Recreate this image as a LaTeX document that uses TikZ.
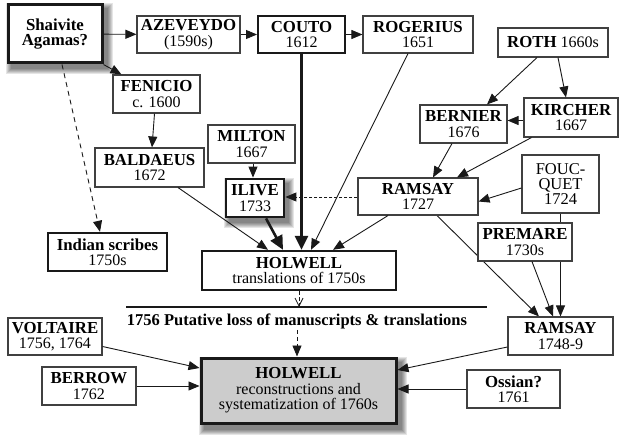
\documentclass[tikz,border=0pt]{standalone}
\usepackage{fontspec}
\setmainfont{Liberation Serif}
\usetikzlibrary{arrows.meta,backgrounds,calc}
\newcommand\nm[1]{{\fontsize{16.8}{15.5}\selectfont\bfseries #1}}
\newcommand\fakeshadow[1]{%
  \begin{pgfonlayer}{background}
  \foreach \s in {5,4,3,2,1,0}{%
    \fill[black,opacity=0.1] ([xshift={4pt-\s pt},yshift={-5pt+\s pt}]#1.north west) rectangle ([xshift={4pt+\s pt},yshift={-5pt-\s pt}]#1.south east);}
  \end{pgfonlayer}}
\begin{document}
\begin{tikzpicture}[x=1pt,y=-1pt,
 box/.style={draw=black!75,line width=1.1pt,fill=white,inner sep=1pt,align=center,font=\fontsize{16}{15.5}\selectfont},
 thickbox/.style={box,draw=black!90,line width=2.6pt},
 arr/.style={line width=0.9pt,draw=black!90,-{Triangle[length=11pt,width=9pt]}},
 thickarr/.style={line width=2.6pt,draw=black!90,-{Triangle[length=14pt,width=13pt]}},
]
\useasboundingbox (0,0) rectangle (619,441);

% nodes
\node[thickbox,line width=3pt,minimum width=94pt,minimum height=58pt] (shaivite) at (55,34) {\nm{Shaivite}\\\nm{Agamas?}};
\node[box,minimum width=103pt,minimum height=37pt] (azev) at (188.5,34.5) {\nm{AZEVEYDO}\\(1590s)};
\node[thickbox,line width=2pt,minimum width=87pt,minimum height=37pt] (couto) at (301.5,34.5) {\nm{COUTO}\\1612};
\node[box,minimum width=110pt,minimum height=37pt] (roger) at (418,34.5) {\nm{ROGERIUS}\\1651};
\node[box,minimum width=110pt,minimum height=29pt] (roth) at (553,42.5) {\nm{ROTH} 1660s};
\node[box,minimum width=94pt,minimum height=39pt] (kircher) at (571,117.5) {\nm{KIRCHER}\\1667};
\node[box,minimum width=87pt,minimum height=38pt] (bernier) at (463.5,124) {\nm{BERNIER}\\1676};
\node[box,minimum width=87pt,minimum height=38pt] (fenicio) at (156.5,94) {\nm{FENICIO}\\c. 1600};
\node[box,minimum width=87pt,minimum height=38pt] (milton) at (251.5,144) {\nm{MILTON}\\1667};
\node[box,minimum width=109pt,minimum height=39pt] (baldaeus) at (149.5,167.5) {\nm{BALDAEUS}\\1672};
\node[thickbox,line width=2.8pt,minimum width=58pt,minimum height=38pt] (ilive) at (255,198) {\nm{ILIVE}\\1733};
\node[box,minimum width=120pt,minimum height=37pt] (ramsayA) at (418,196.5) {\nm{RAMSAY}\\1727};
\node[box,minimum width=77pt,minimum height=58pt,font=\fontsize{16.5}{15}\selectfont] (foucquet) at (560.5,184) {FOUC-\\QUET\\1724};
\node[box,minimum width=94pt,minimum height=38pt] (premare) at (525,242) {\nm{PREMARE}\\1730s};
\node[thickbox,line width=2.4pt,minimum width=119pt,minimum height=38pt] (indian) at (107.5,252) {\nm{Indian scribes}\\1750s};
\node[thickbox,line width=2.4pt,minimum width=194pt,minimum height=39pt] (holtr) at (299,270.5) {\nm{HOLWELL}\\translations of 1750s};
\node[box,minimum width=94pt,minimum height=37pt] (voltaire) at (55,336.5) {\nm{VOLTAIRE}\\1756, 1764};
\node[box,minimum width=94pt,minimum height=38pt] (berrow) at (89,386) {\nm{BERROW}\\1762};
\node[thickbox,line width=3pt,fill=black!20,minimum width=195pt,minimum height=65pt] (holrec) at (298.5,390.5) {\nm{HOLWELL}\\reconstructions and\\systematization of 1760s};
\node[box,minimum width=105pt,minimum height=38pt] (ramsayB) at (560.5,336) {\nm{RAMSAY}\\1748-9};
\node[box,minimum width=93pt,minimum height=38pt] (ossian) at (513.5,389) {\nm{Ossian?}\\1761};

% shadows
\fakeshadow{shaivite}
\fakeshadow{ilive}
\fakeshadow{holrec}

% loss line and label
\coordinate (lossL) at (126,307);
\coordinate (lossR) at (487,307);
\draw[line width=2pt,black!90] (lossL) -- (lossR);
\node[inner sep=1pt,font=\fontsize{16.5}{16}\selectfont\bfseries] (loss) at (297,321) {1756 Putative loss of manuscripts \& translations};

% edges behind PREMARE
\begin{pgfonlayer}{background}
\draw[arr] ([xshift=19pt]ramsayA.south) -- ([xshift=-21.5pt]ramsayB.north);
\draw[arr] (foucquet.south) -- (ramsayB.north);
\end{pgfonlayer}

% edges
\draw[arr] (shaivite) -- (azev);
\draw[arr] (azev) -- (couto);
\draw[arr] (couto) -- (roger);
\draw[arr] (shaivite.south east) -- ([xshift=9pt]fenicio.north west);
\draw[arr,dash pattern=on 5pt off 4pt] ([xshift=7pt]shaivite.south) -- ([xshift=-7.5pt]indian.north);
\draw[arr] ([xshift=-2pt]fenicio.south) -- ([xshift=2.5pt]baldaeus.north);
\draw[arr] ([xshift=1.5pt]milton.south) -- ([xshift=1.5pt]milton.south |- ilive.north);
\draw[arr] ([xshift=28.5pt]baldaeus.south) -- ([xshift=-31pt]holtr.north);
\draw[thickarr] ([xshift=11pt]ilive.south) -- ([xshift=-16pt]holtr.north);
\draw[thickarr] (couto.south) -- (couto.south |- holtr.north);
\draw[arr] ([xshift=-10pt]roger.south) -- ([xshift=12pt]holtr.north);
\draw[arr] ([xshift=-30pt]ramsayA.south) -- ([xshift=34pt]holtr.north);
\draw[arr,dash pattern=on 3pt off 2pt] ([yshift=-0.5pt]ramsayA.west) -- ([yshift=-0.5pt]ramsayA.west -| ilive.east);
\draw[arr] ([xshift=-16pt]roth.south) -- ([xshift=23.5pt]bernier.north);
\draw[arr] ([xshift=5pt]roth.south) -- ([xshift=-5pt]kircher.north);
\draw[arr] ([yshift=-3pt]kircher.west) -- ([yshift=-3pt]kircher.west -| bernier.east);
\draw[arr] ([xshift=-11.5pt]bernier.south) -- ([xshift=15pt]ramsayA.north);
\draw[arr] ([xshift=8pt]kircher.south west) -- ([xshift=39pt]ramsayA.north);
\draw[arr] ([yshift=-4pt]foucquet.west) -- ([yshift=-5pt]ramsayA.east);
\draw[arr] ([xshift=7pt]premare.south) -- ([xshift=-7.5pt]ramsayB.north);
\draw[line width=0.8pt,black!90,dash pattern=on 4pt off 2pt,-{Straight Barb[length=8pt,width=8pt,line width=0.8pt]}] (holtr.south) -- (holtr.south |- lossL);
\draw[arr,dash pattern=on 4pt off 3pt] (loss.south) -- (loss.south |- holrec.north);
\draw[arr] ([yshift=-10pt]voltaire.east) -- ([yshift=22.5pt]holrec.west);
\draw[arr] (berrow.east) -- (berrow.east -| holrec.west);
\draw[arr] ([yshift=-11pt]ramsayB.west) -- ([yshift=20.5pt]holrec.east);
\draw[arr] (ossian.west) -- (ossian.west -| holrec.east);
\end{tikzpicture}
\end{document}
